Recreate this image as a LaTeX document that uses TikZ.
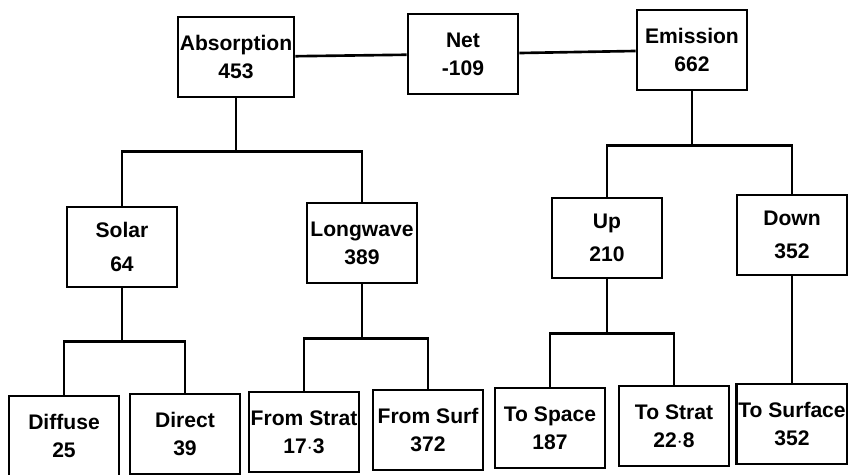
\documentclass[tikz,border=0pt]{standalone}
\usepackage{fontspec}
\setmainfont{Liberation Sans}
\usetikzlibrary{positioning}

\begin{document}
\begin{tikzpicture}[
  x=0.02cm, y=-0.02cm,
  every node/.style={font=\bfseries\fontsize{12}{14}\selectfont},
  box/.style={draw, line width=1.5pt, fill=white,
              minimum width=2.2cm, minimum height=1.6cm, align=center, inner sep=1pt},
  link/.style={line width=1.5pt}
]
  \useasboundingbox (0,0) rectangle (848,474);

  % Top row: totals
  \node[box] (absn) at (236,57) {Absorption\\[2pt]453};
  \node[box] (net)  at (463,54) {Net\\[2pt]-109};
  \node[box] (emis) at (692,50) {Emission\\[2pt]662};

  % Middle row
  \node[box] (solar) at (122,247) {Solar\\[5pt]64};
  \node[box] (longw) at (362,243) {Longwave\\[2pt]389};
  \node[box] (up)    at (607,238) {Up\\[5pt]210};
  \node[box] (down)  at (792,235) {Down\\[5pt]352};

  % Bottom row
  \node[box] (diffuse)  at (64,436)  {Diffuse\\[2pt]25};
  \node[box] (direct)   at (185,434) {Direct\\[2pt]39};
  \node[box] (fromstr)  at (304,432) {From Strat\\[2pt]17$\cdot$3};
  \node[box] (fromsurf) at (428,430) {From Surf\\[2pt]372};
  \node[box] (tospace)  at (550,428) {To Space\\[2pt]187};
  \node[box] (tostrat)  at (674,426) {To Strat\\[2pt]22$\cdot$8};
  \node[box] (tosurf)   at (792,424) {To Surface\\[2pt]352};

  % Top links
  \draw[link] (absn) -- (net);
  \draw[link] (net) -- (emis);

  % Tree branches
  \draw[link] (absn.south) -- ++(0,53) -| (solar.north);
  \draw[link] (absn.south) -- ++(0,53) -| (longw.north);
  \draw[link] (emis.south) -- ++(0,54) -| (up.north);
  \draw[link] (emis.south) -- ++(0,54) -| (down.north);

  \draw[link] (solar.south) -- ++(0,53) -| (diffuse.north);
  \draw[link] (solar.south) -- ++(0,53) -| (direct.north);
  \draw[link] (longw.south) -- ++(0,54) -| (fromstr.north);
  \draw[link] (longw.south) -- ++(0,54) -| (fromsurf.north);
  \draw[link] (up.south) -- ++(0,54) -| (tospace.north);
  \draw[link] (up.south) -- ++(0,54) -| (tostrat.north);
  \draw[link] (down.south) -- (tosurf.north);
\end{tikzpicture}
\end{document}
